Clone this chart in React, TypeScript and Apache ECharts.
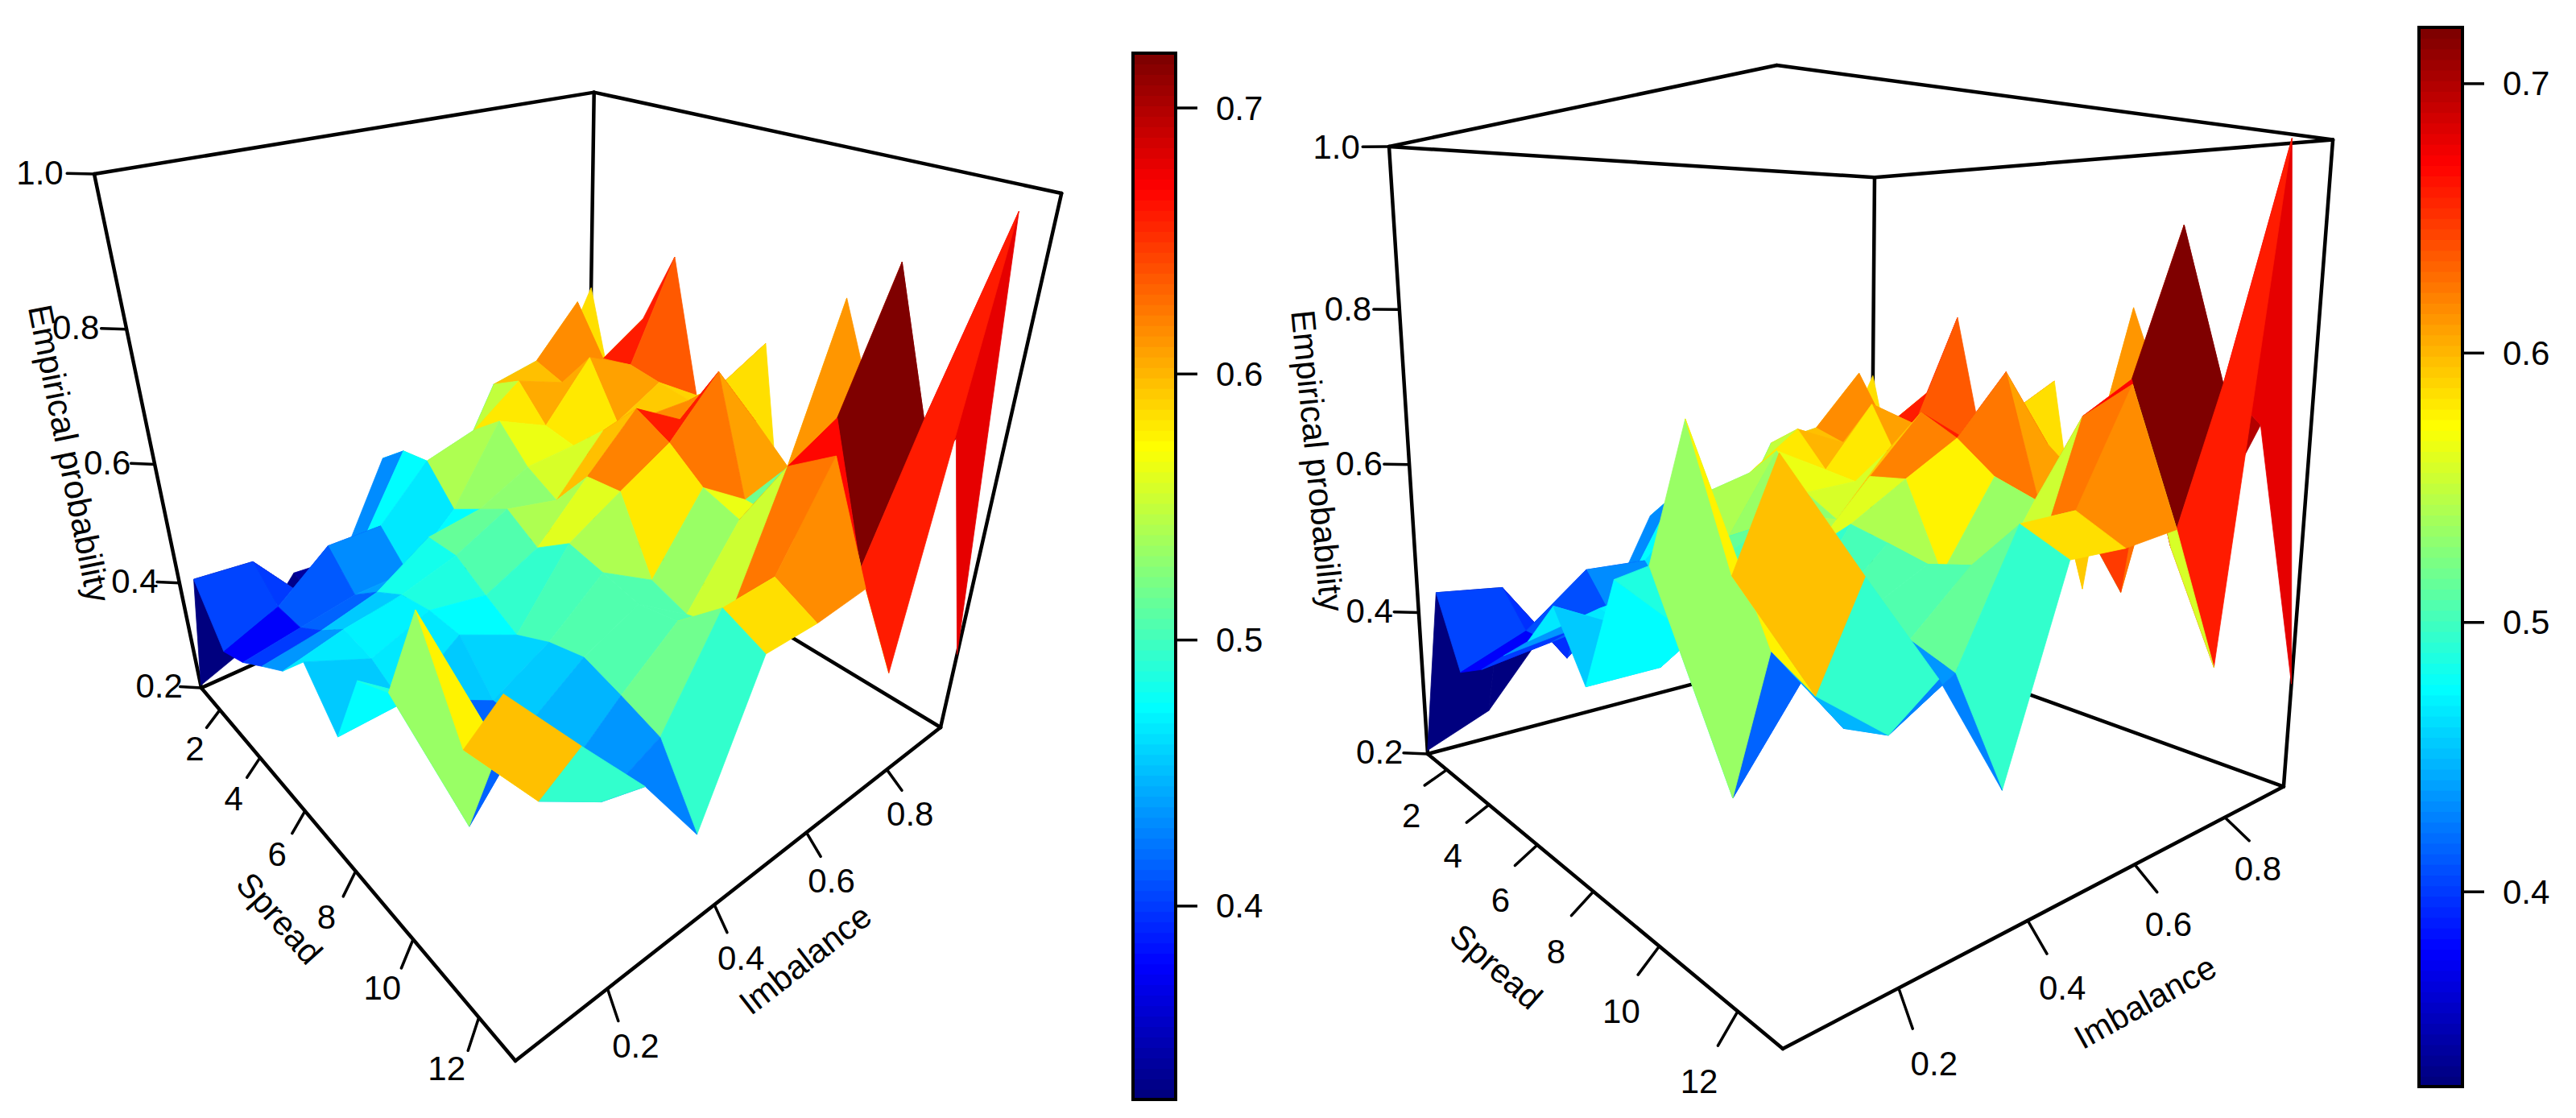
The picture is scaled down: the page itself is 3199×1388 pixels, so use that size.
import { FC, useEffect, useRef } from 'react';
import * as echarts from 'echarts';

// axis values of the grid
const spreads = [1, 2, 3, 4, 5, 6, 7, 8, 9, 10, 11, 12, 13];
const imbalances = [0.05, 0.15, 0.25, 0.35, 0.45, 0.55, 0.65, 0.75, 0.85, 0.95];

// empirical probability per spread (1..13), one list per imbalance
const imb05 = [0.205, 0.442, 0.353, 0.375, 0.41, 0.444, 0.5, 0.429, 0.557, 0.584, 0.727, 0.602, 0.714];
const imb15 = [0.24, 0.433, 0.389, 0.39, 0.424, 0.465, 0.458, 0.43, 0.48, 0.328, 0.5, 0.475, 0.6];
const imb25 = [0.338, 0.315, 0.456, 0.405, 0.446, 0.478, 0.49, 0.49, 0.428, 0.432, 0.4, 0.414, 0.489];
const imb35 = [0.33, 0.388, 0.454, 0.405, 0.499, 0.502, 0.472, 0.445, 0.473, 0.49, 0.474, 0.456, 0.355];
const imb45 = [0.483, 0.524, 0.534, 0.479, 0.51, 0.541, 0.51, 0.55, 0.539, 0.527, 0.539, 0.596, 0.571];
const imb55 = [0.429, 0.444, 0.557, 0.598, 0.548, 0.521, 0.589, 0.595, 0.487, 0.468, 0.485, 0.598, 0.569];
const imb65 = [0.42, 0.585, 0.614, 0.561, 0.553, 0.605, 0.665, 0.638, 0.597, 0.578, 0.686, 0.728, 0.576];
const imb75 = [0.544, 0.601, 0.585, 0.651, 0.564, 0.6, 0.619, 0.718, 0.544, 0.541, 0.723, 0.53, 0.4];
const imb85 = [0.52, 0.683, 0.602, 0.613, 0.605, 0.598, 0.652, 0.613, 0.565, 0.43, 0.905, 0.717, 0.996];
const imb95 = [0.669, 0.468, 0.65, 0.775, 0.555, 0.6, 0.69, 0.39, 0.8, 0.654, 0.518, 0.66, 0.338];
const probability = [imb05, imb15, imb25, imb35, imb45, imb55, imb65, imb75, imb85, imb95];

// tick labels
const spreadTicks = [2, 4, 6, 8, 10, 12];
const imbalanceTicks = [0.2, 0.4, 0.6, 0.8];
const probabilityTicks = [0.2, 0.4, 0.6, 0.8, 1.0];
const colourTicks = [0.4, 0.5, 0.6, 0.7];

const spreadRange = [1, 13];
const imbalanceRange = [0.05, 0.95];
const zRange = [0.2, 1.0];

const jetStops = ['#00007F', '#0000FF', '#007FFF', '#00FFFF', '#7FFF7F', '#FFFF00', '#FF7F00', '#FF0000', '#7F0000'];
const FONT = 'Liberation Sans';
const FONT_SIZE = 42;

const hexToRgb = (h: string) => [1, 3, 5].map((k) => parseInt(h.slice(k, k + 2), 16));

// 100 colour ramp, same as the colour key
const jetColor = (t: number) => {
  const k = Math.max(0, Math.min(99, Math.floor(t * 100)));
  const pos = (k / 99) * (jetStops.length - 1);
  const a = Math.min(jetStops.length - 2, Math.floor(pos));
  const f = pos - a;
  const c0 = hexToRgb(jetStops[a]);
  const c1 = hexToRgb(jetStops[a + 1]);
  return `rgb(${c0.map((c, i) => Math.round(c + (c1[i] - c) * f)).join(',')})`;
};

// camera of each panel, projective map of the unit box to the page
const panels: any[] = [
  {
    nx: [250, 191.9, 672.4, -159.9],
    ny: [854, 55.3, -47.8, -687.7],
    nd: [1, -0.3096, 0.2636, -0.23],
    frontTop: false,
    spreadTick: [0.03, -0.04],
    imbalanceTick: [0.047, -0.022],
    // label offsets in pixels at the first and the last tick
    spreadLabel: [[-31, 48], [-40, 63]],
    imbalanceLabel: [[35, 71], [29, 55]],
    colourMin: 0.3273,
    colourMax: 0.7206,
    key: { left: 1407, top: 66, width: 53, height: 1299 },
    titles: [
      { text: 'Empirical probability', x: 86, y: 563, rotation: -1.372 },
      { text: 'Spread', x: 347, y: 1140, rotation: -0.84 },
      { text: 'Imbalance', x: 1000, y: 1191, rotation: 0.66 },
    ],
  },
  {
    nx: [1773, -389.25, 1282, -203.25],
    ny: [936, -122.25, 104.2, -770.4],
    nd: [1, -0.375, 0.315, -0.09],
    frontTop: true,
    spreadTick: [0.035, -0.05],
    imbalanceTick: [0.064, -0.038],
    spreadLabel: [[-44, 57], [-48, 87]],
    imbalanceLabel: [[44, 94], [41, 64]],
    colourMin: 0.3277,
    colourMax: 0.7209,
    key: { left: 3004, top: 34, width: 54, height: 1315 },
    titles: [
      { text: 'Empirical probability', x: 1636, y: 572, rotation: -1.473 },
      { text: 'Spread', x: 1858, y: 1200, rotation: -0.72 },
      { text: 'Imbalance', x: 2664, y: 1244, rotation: 0.506 },
    ],
  },
];

const BOX_WIDTH = 4.5;
const TICK_WIDTH = 3.5;
const KEY_TICK = 27;

const toU = (s: number) => (s - spreadRange[0]) / (spreadRange[1] - spreadRange[0]);
const toV = (m: number) => (m - imbalanceRange[0]) / (imbalanceRange[1] - imbalanceRange[0]);
const toW = (z: number) => (z - zRange[0]) / (zRange[1] - zRange[0]);

const depth = (p: any, u: number, v: number, w: number) => p.nd[0] + p.nd[1] * u + p.nd[2] * v + p.nd[3] * w;

const project = (p: any, u: number, v: number, w: number) => {
  const d = depth(p, u, v, w);
  return [
    (p.nx[0] + p.nx[1] * u + p.nx[2] * v + p.nx[3] * w) / d,
    (p.ny[0] + p.ny[1] * u + p.ny[2] * v + p.ny[3] * w) / d,
  ];
};

// facets of one panel, far ones first
const buildFacets = (p: any) => {
  const out: any[] = [];
  for (let j = 0; j < imbalances.length - 1; j++) {
    for (let i = 0; i < spreads.length - 1; i++) {
      const corners = [
        [i, j],
        [i + 1, j],
        [i + 1, j + 1],
        [i, j + 1],
      ];
      const uvw = corners.map(([a, b]) => [toU(spreads[a]), toV(imbalances[b]), toW(probability[b][a])]);
      const mean = corners.reduce((s, [a, b]) => s + probability[b][a], 0) / 4;
      out.push({
        points: uvw.map((c) => project(p, c[0], c[1], c[2])),
        color: jetColor((mean - p.colourMin) / (p.colourMax - p.colourMin)),
        depth: uvw.reduce((s, c) => s + depth(p, c[0], c[1], c[2]), 0) / 4,
      });
    }
  }
  return out.sort((a, b) => b.depth - a.depth);
};

// box edges and ticks of one panel
const buildSegments = (p: any) => {
  const c = (u: number, v: number, w: number) => project(p, u, v, w);
  const segs: any[] = [
    [c(0, 0, 0), c(1, 0, 0), BOX_WIDTH],
    [c(1, 0, 0), c(1, 1, 0), BOX_WIDTH],
    [c(0, 0, 0), c(0, 1, 0), BOX_WIDTH],
    [c(0, 1, 0), c(1, 1, 0), BOX_WIDTH],
    [c(0, 0, 0), c(0, 0, 1), BOX_WIDTH],
    [c(0, 1, 0), c(0, 1, 1), BOX_WIDTH],
    [c(1, 1, 0), c(1, 1, 1), BOX_WIDTH],
    [c(0, 0, 1), c(0, 1, 1), BOX_WIDTH],
    [c(0, 1, 1), c(1, 1, 1), BOX_WIDTH],
  ];
  if (p.frontTop) {
    segs.push([c(0, 0, 1), c(1, 0, 1), BOX_WIDTH], [c(1, 0, 1), c(1, 1, 1), BOX_WIDTH]);
  }
  spreadTicks.forEach((s) => {
    const u = toU(s);
    segs.push([c(u, 0, 0), c(u + p.spreadTick[0], p.spreadTick[1], 0), TICK_WIDTH]);
  });
  imbalanceTicks.forEach((m) => {
    const v = toV(m);
    segs.push([c(1, v, 0), c(1 + p.imbalanceTick[0], v + p.imbalanceTick[1], 0), TICK_WIDTH]);
  });
  probabilityTicks.forEach((z) => {
    segs.push([c(0, 0, toW(z)), c(-0.03, -0.03, toW(z)), TICK_WIDTH]);
  });
  return segs;
};

const lerpOffset = (pair: number[][], f: number) => [
  pair[0][0] + (pair[1][0] - pair[0][0]) * f,
  pair[0][1] + (pair[1][1] - pair[0][1]) * f,
];

// tick labels and axis titles of one panel
const buildTexts = (p: any) => {
  const items: any[] = [];
  spreadTicks.forEach((s, k) => {
    const at = project(p, toU(s), 0, 0);
    const off = lerpOffset(p.spreadLabel, k / (spreadTicks.length - 1));
    items.push({ text: String(s), x: at[0] + off[0], y: at[1] + off[1], rotation: 0 });
  });
  imbalanceTicks.forEach((m, k) => {
    const at = project(p, 1, toV(m), 0);
    const off = lerpOffset(p.imbalanceLabel, k / (imbalanceTicks.length - 1));
    items.push({ text: m.toFixed(1), x: at[0] + off[0], y: at[1] + off[1], rotation: 0 });
  });
  probabilityTicks.forEach((z) => {
    const at = project(p, -0.06, -0.06, toW(z));
    items.push({ text: z.toFixed(1), x: at[0], y: at[1], rotation: 0 });
  });
  return items.concat(p.titles);
};

const pageSeries = (p: any) => {
  const facets = buildFacets(p);
  const segments = buildSegments(p);
  const texts = buildTexts(p);
  return [
    {
      type: 'custom',
      xAxisIndex: 0,
      yAxisIndex: 0,
      silent: true,
      z: 1,
      clip: false,
      data: segments.map((s) => s[0]),
      renderItem: (params: any, api: any) => {
        const s = segments[params.dataIndex];
        const a = api.coord(s[0]);
        const b = api.coord(s[1]);
        return {
          type: 'line',
          shape: { x1: a[0], y1: a[1], x2: b[0], y2: b[1] },
          style: { stroke: '#000', lineWidth: s[2], lineCap: 'round', fill: null },
        };
      },
    },
    {
      type: 'custom',
      xAxisIndex: 0,
      yAxisIndex: 0,
      silent: true,
      z: 2,
      clip: false,
      data: facets.map((f) => f.points[0]),
      renderItem: (params: any, api: any) => {
        const f = facets[params.dataIndex];
        return {
          type: 'polygon',
          shape: { points: f.points.map((q: number[]) => api.coord(q)) },
          style: { fill: f.color, stroke: f.color, lineWidth: 0.8 },
        };
      },
    },
    {
      type: 'custom',
      xAxisIndex: 0,
      yAxisIndex: 0,
      silent: true,
      z: 3,
      clip: false,
      data: texts.map((t) => [t.x, t.y]),
      renderItem: (params: any, api: any) => {
        const t = texts[params.dataIndex];
        const at = api.coord([t.x, t.y]);
        return {
          type: 'text',
          x: at[0],
          y: at[1],
          rotation: t.rotation,
          style: {
            text: t.text,
            fill: '#000',
            font: `${FONT_SIZE}px "${FONT}"`,
            align: 'center',
            verticalAlign: 'middle',
          },
        };
      },
    },
  ];
};

const keySeries = (p: any, axis: number) => {
  const step = (p.colourMax - p.colourMin) / 100;
  const levels = Array.from({ length: 100 }, (_, k) => k);
  return [
    {
      type: 'custom',
      xAxisIndex: axis,
      yAxisIndex: axis,
      silent: true,
      z: 2,
      data: levels.map((k) => [0, p.colourMin + k * step]),
      renderItem: (params: any, api: any) => {
        const k = params.dataIndex;
        const a = api.coord([0, p.colourMin + k * step]);
        const b = api.coord([1, p.colourMin + (k + 1) * step]);
        const color = jetColor((k + 0.5) / 100);
        return {
          type: 'rect',
          shape: { x: a[0], y: b[1], width: b[0] - a[0], height: a[1] - b[1] + 1 },
          style: { fill: color },
        };
      },
    },
    {
      type: 'custom',
      xAxisIndex: axis,
      yAxisIndex: axis,
      silent: true,
      z: 3,
      clip: false,
      data: [[0, p.colourMin]],
      renderItem: (_: any, api: any) => {
        const a = api.coord([0, p.colourMin]);
        const b = api.coord([1, p.colourMax]);
        return {
          type: 'rect',
          shape: { x: a[0], y: b[1], width: b[0] - a[0], height: a[1] - b[1] },
          style: { fill: null, stroke: '#000', lineWidth: 4 },
        };
      },
    },
    {
      type: 'custom',
      xAxisIndex: axis,
      yAxisIndex: axis,
      silent: true,
      z: 3,
      clip: false,
      data: colourTicks.map((v) => [1, v]),
      renderItem: (params: any, api: any) => {
        const a = api.coord([1, colourTicks[params.dataIndex]]);
        return {
          type: 'line',
          shape: { x1: a[0], y1: a[1], x2: a[0] + KEY_TICK, y2: a[1] },
          style: { stroke: '#000', lineWidth: TICK_WIDTH, fill: null },
        };
      },
    },
  ];
};

const App: FC = () => {
  const chartDom = useRef<HTMLDivElement>(null);

  useEffect(() => {
    const chart = echarts.init(chartDom.current, null, { renderer: 'svg' });
    const option: any = {
      animation: false,
      backgroundColor: '#fff',
      grid: [
        { left: 0, top: 0, width: 3199, height: 1388 },
        ...panels.map((p) => ({ left: p.key.left, top: p.key.top, width: p.key.width, height: p.key.height })),
      ],
      xAxis: [
        { type: 'value', gridIndex: 0, min: 0, max: 3199, show: false },
        { type: 'value', gridIndex: 1, min: 0, max: 1, show: false },
        { type: 'value', gridIndex: 2, min: 0, max: 1, show: false },
      ],
      yAxis: [
        { type: 'value', gridIndex: 0, min: 0, max: 1388, inverse: true, show: false },
        ...panels.map((p, k) => ({
          type: 'value',
          gridIndex: k + 1,
          min: p.colourMin,
          max: p.colourMax,
          position: 'right',
          splitLine: { show: false },
          axisLine: { show: false },
          axisTick: { show: false },
          axisLabel: {
            customValues: colourTicks,
            margin: 50,
            color: '#000',
            fontFamily: FONT,
            fontSize: FONT_SIZE,
            formatter: (v: number) => v.toFixed(1),
          },
        })),
      ],
      series: [...panels.flatMap(pageSeries), ...panels.flatMap((p, k) => keySeries(p, k + 1))],
    };
    chart.setOption(option);
    return () => {
      chart.dispose();
    };
  }, []);

  return <div ref={chartDom} style={{ position: 'absolute', left: 0, top: 0, width: 3199, height: 1388 }} />;
};

export default App;
